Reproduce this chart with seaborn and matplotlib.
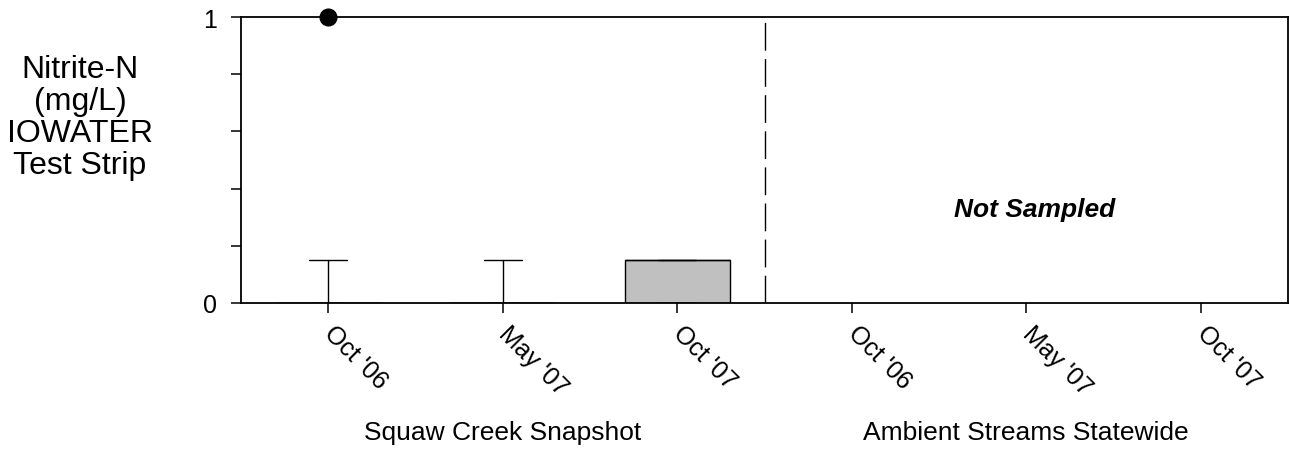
import numpy as np
import pandas as pd
import matplotlib
matplotlib.use("Agg")
import matplotlib.pyplot as plt
import matplotlib.transforms as mtransforms
import seaborn as sns

# sampling slots, left block = Squaw Creek Snapshot, right block = Ambient Streams Statewide
slots = ["sc_oct06", "sc_may07", "sc_oct07", "as_oct06", "as_may07", "as_oct07"]
tick_labels = ["Oct '06", "May '07", "Oct '07", "Oct '06", "May '07", "Oct '07"]
groups = ["Squaw Creek Snapshot", "Ambient Streams Statewide"]

# nitrite-N readings (mg/L) from the test strips
sc_oct06 = [0, 0, 0, 0, 0, 0, 0, 0, 0, 0, 0.15, 0.15, 1.0]
sc_may07 = [0, 0, 0, 0, 0, 0, 0, 0, 0.15, 0.15]
sc_oct07 = [0, 0, 0, 0.15, 0.15, 0.15, 0.15, 0.15]
# ambient streams: not sampled

df = pd.DataFrame({
    "slot": ["sc_oct06"] * len(sc_oct06) + ["sc_may07"] * len(sc_may07) + ["sc_oct07"] * len(sc_oct07),
    "value": sc_oct06 + sc_may07 + sc_oct07,
})

sns.set_style("ticks")
plt.rcParams["font.family"] = ["Liberation Sans", "DejaVu Sans"]
plt.rcParams["text.color"] = "black"
plt.rcParams["xtick.color"] = "black"
plt.rcParams["ytick.color"] = "black"

fig = plt.figure(figsize=(12.9, 4.56), dpi=100)
ax = fig.add_axes([241 / 1290, 1 - 304 / 456, 1047 / 1290, 286 / 456])

sns.boxplot(
    data=df, x="slot", y="value", order=slots, ax=ax,
    whis=(10, 90), width=0.6, color="#c0c0c0", saturation=1,
    linecolor="black", linewidth=1,
    capwidths=0.22,
    flierprops=dict(marker="o", markerfacecolor="black", markeredgecolor="black",
                    markersize=12, clip_on=False, zorder=5),
)

ax.set_xlim(-0.5, len(slots) - 0.5)
ax.set_ylim(0, 1)
ax.axvline(2.5, color="black", lw=1, ls=(0, (20, 6)))

ax.set_yticks([0, 0.2, 0.4, 0.6, 0.8, 1.0], labels=["0", "", "", "", "", "1"])
ax.set_xticks(range(len(slots)))
ax.set_xticklabels(tick_labels, rotation=-45, ha="left", va="center", rotation_mode="anchor")
ax.tick_params(axis="both", direction="out", length=7, width=1.1, labelsize=18, colors="black")
ax.tick_params(axis="y", pad=10)
ax.tick_params(axis="x", pad=12)
ax.set_xlabel("")
ax.set_ylabel("")
for s in ax.spines.values():
    s.set_visible(True)
    s.set_linewidth(1.3)
    s.set_color("black")

trans = mtransforms.blended_transform_factory(ax.transData, ax.transAxes)
ax.text(1, -0.45, groups[0], transform=trans, ha="center", va="center", fontsize=19)
ax.text(4, -0.45, groups[1], transform=trans, ha="center", va="center", fontsize=19)
ax.text(4.05, 0.33, "Not Sampled", ha="center", va="center", fontsize=19,
        fontweight="bold", fontstyle="italic")

fig.text(80 / 1290, 1 - 118 / 456, "Nitrite-N\n(mg/L)\nIOWATER\nTest Strip",
         ha="center", va="center", multialignment="center", fontsize=23, linespacing=1.08)

fig.savefig("out.png", dpi=100)
